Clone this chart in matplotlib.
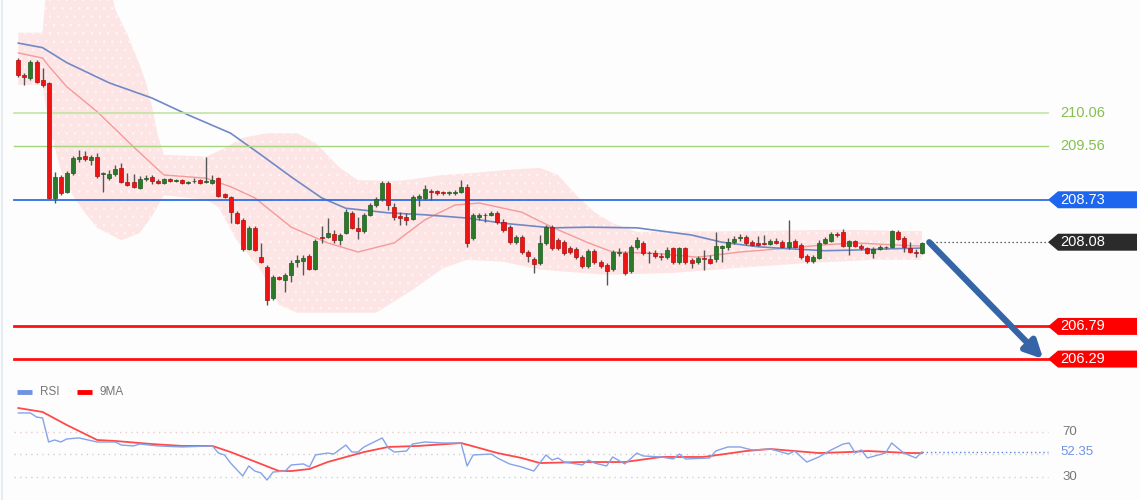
import matplotlib
matplotlib.use("Agg")
import matplotlib.pyplot as plt
import matplotlib.transforms as mtransforms
from matplotlib.patches import Polygon, Rectangle
from matplotlib.lines import Line2D
import numpy as np

plt.rcParams['font.family'] = ['Liberation Sans', 'DejaVu Sans']
plt.rcParams['hatch.linewidth'] = 0.5

# ---- candles (oldest -> newest) ----
opens = [
    210.87, 210.64, 210.60, 210.84, 210.57, 210.52, 208.76, 209.08, 208.85, 209.14,
    209.36, 209.40, 209.34, 209.39, 209.13, 209.06, 209.13, 209.22, 209.00, 209.00,
    208.91, 209.05, 209.08, 209.02, 208.99, 209.05, 209.02, 209.03, 208.99, 209.01,
    209.03, 209.00, 208.99, 209.06, 208.82, 208.77, 208.53, 208.42, 207.98, 208.30,
    207.85, 207.70, 207.23, 207.55, 207.50, 207.58, 207.77, 207.79, 207.87, 207.67,
    208.16, 208.16, 208.21, 208.11, 208.22, 208.53, 208.30, 208.25, 208.50, 208.65,
    208.74, 208.98, 208.62, 208.48, 208.47, 208.44, 208.76, 208.76, 208.87, 208.86,
    208.84, 208.83, 208.83, 208.85, 208.93, 208.14, 208.47, 208.49, 208.50, 208.53,
    208.39, 208.31, 208.08, 208.16, 207.93, 207.82, 207.76, 208.07, 208.31, 208.11,
    208.08, 207.99, 207.98, 207.85, 207.72, 207.95, 207.78, 207.73, 207.67, 207.91,
    207.92, 207.64, 208.01, 208.07, 207.91, 207.92, 207.87, 207.85, 207.99, 207.78,
    207.99, 207.81, 207.78, 207.83, 207.82, 207.82, 207.99, 208.01, 208.08, 208.14,
    208.16, 208.08, 208.07, 208.06, 208.06, 208.10, 208.08, 208.01, 208.10, 208.04,
    207.87, 207.79, 207.84, 208.07, 208.10, 208.21, 208.24, 208.02, 208.10, 208.02,
    207.99, 207.91, 207.98, 208.00, 208.01, 208.24, 208.14, 207.99, 207.93, 207.92]
closes = [
    210.64, 210.61, 210.84, 210.54, 210.49, 208.76, 209.08, 208.83, 209.14, 209.37,
    209.39, 209.36, 209.39, 209.10, 209.14, 209.13, 209.20, 209.00, 208.96, 208.93,
    209.05, 209.07, 209.02, 208.99, 209.05, 209.02, 209.03, 208.99, 209.00, 209.02,
    208.99, 209.01, 209.03, 208.79, 208.77, 208.54, 208.37, 207.98, 208.30, 207.96,
    207.78, 207.20, 207.55, 207.52, 207.58, 207.76, 207.80, 207.84, 207.67, 208.10,
    208.15, 208.22, 208.11, 208.19, 208.54, 208.30, 208.25, 208.50, 208.65, 208.74,
    208.98, 208.65, 208.47, 208.45, 208.42, 208.77, 208.79, 208.90, 208.85, 208.83,
    208.83, 208.84, 208.85, 208.93, 208.07, 208.50, 208.50, 208.50, 208.53, 208.39,
    208.27, 208.08, 208.16, 207.93, 207.87, 207.75, 208.07, 208.31, 207.99, 207.99,
    207.91, 207.93, 207.85, 207.72, 207.95, 207.78, 207.72, 207.64, 207.93, 207.93,
    207.61, 208.01, 208.11, 207.91, 207.92, 207.87, 207.86, 207.96, 207.78, 207.99,
    207.78, 207.76, 207.84, 207.82, 207.76, 208.02, 208.02, 208.08, 208.13, 208.16,
    208.07, 208.04, 208.04, 208.05, 208.10, 208.07, 208.01, 208.08, 208.01, 207.85,
    207.79, 207.85, 208.07, 208.13, 208.21, 208.19, 208.02, 208.10, 208.02, 207.99,
    207.91, 207.98, 208.01, 208.01, 208.25, 208.13, 208.01, 207.93, 207.92, 208.07]
highs = [
    210.90, 210.67, 210.87, 210.87, 210.75, 210.54, 209.15, 209.11, 209.17, 209.40,
    209.49, 209.48, 209.42, 209.45, 209.16, 209.19, 209.26, 209.29, 209.14, 209.13,
    209.09, 209.11, 209.11, 209.05, 209.07, 209.07, 209.05, 209.05, 209.02, 209.06,
    209.05, 209.39, 209.11, 209.08, 208.84, 208.79, 208.56, 208.45, 208.33, 208.33,
    208.07, 207.73, 207.58, 207.57, 207.61, 207.81, 207.88, 207.88, 207.90, 208.13,
    208.33, 208.45, 208.27, 208.22, 208.59, 208.56, 208.47, 208.53, 208.68, 208.77,
    209.01, 209.01, 208.68, 208.54, 208.53, 208.80, 208.82, 208.96, 208.90, 208.88,
    208.87, 208.86, 208.88, 209.03, 208.97, 208.53, 208.53, 208.53, 208.56, 208.56,
    208.44, 208.34, 208.19, 208.19, 207.96, 207.85, 208.19, 208.34, 208.34, 208.14,
    208.11, 208.02, 208.01, 207.88, 207.98, 207.98, 207.81, 207.76, 207.96, 207.99,
    207.95, 208.04, 208.16, 208.10, 207.94, 207.96, 207.91, 208.01, 208.01, 208.01,
    208.01, 207.84, 207.87, 207.96, 207.88, 208.24, 208.04, 208.14, 208.18, 208.21,
    208.19, 208.11, 208.18, 208.19, 208.13, 208.14, 208.11, 208.42, 208.13, 208.07,
    207.90, 207.88, 208.11, 208.16, 208.24, 208.24, 208.28, 208.11, 208.11, 208.05,
    208.01, 208.01, 208.04, 208.02, 208.27, 208.27, 208.18, 208.08, 207.98, 208.08]
lows = [
    210.61, 210.49, 210.57, 210.52, 210.46, 208.74, 208.68, 208.80, 208.83, 209.11,
    209.31, 209.33, 209.26, 209.06, 208.85, 209.03, 209.10, 208.99, 208.94, 208.91,
    208.89, 209.02, 208.97, 208.97, 208.97, 209.00, 209.00, 208.97, 208.97, 208.99,
    208.97, 208.98, 208.97, 208.77, 208.75, 208.37, 208.36, 207.95, 207.96, 207.94,
    207.76, 207.12, 207.20, 207.50, 207.32, 207.47, 207.70, 207.58, 207.65, 207.65,
    208.07, 208.14, 208.07, 208.04, 208.21, 208.28, 208.13, 208.22, 208.48, 208.62,
    208.71, 208.57, 208.42, 208.34, 208.34, 208.42, 208.63, 208.73, 208.73, 208.81,
    208.80, 208.80, 208.81, 208.83, 208.01, 208.11, 208.42, 208.39, 208.48, 208.36,
    208.24, 208.05, 208.05, 207.90, 207.78, 207.61, 207.73, 208.04, 207.96, 207.96,
    207.88, 207.90, 207.82, 207.69, 207.69, 207.75, 207.69, 207.42, 207.64, 207.87,
    207.58, 207.61, 207.98, 207.88, 207.76, 207.84, 207.81, 207.82, 207.75, 207.75,
    207.75, 207.68, 207.75, 207.66, 207.75, 207.78, 207.78, 207.96, 208.05, 208.10,
    208.04, 208.02, 208.02, 208.04, 208.04, 208.05, 207.99, 207.98, 207.99, 207.82,
    207.76, 207.76, 207.82, 208.05, 208.08, 208.16, 208.00, 207.88, 208.01, 207.96,
    207.90, 207.84, 207.96, 207.98, 207.99, 208.11, 207.93, 207.91, 207.85, 207.90]

# ---- overlays (candle index -> price) ----
band_up_idx = [0, 4, 5, 14, 16, 18, 20, 21, 22, 23, 24, 31, 34, 37, 41, 46, 49, 53,
               56, 63, 70, 75, 81, 86, 89, 92, 95, 98, 102, 120, 135, 149]
band_up = [211.29, 211.29, 212.40, 212.40, 211.64, 211.26, 210.80, 210.54, 210.18,
           209.72, 209.42, 209.39, 209.52, 209.68, 209.75, 209.75, 209.60, 209.22,
           209.03, 209.02, 209.11, 209.14, 209.19, 209.22, 209.11, 208.80, 208.54,
           208.37, 208.24, 208.25, 208.27, 208.25]
band_lo_idx = [0, 4, 5, 7, 8, 11, 13, 17, 20, 22, 24, 31, 33, 36, 40, 43, 46, 59,
               65, 70, 74, 80, 86, 97, 108, 119, 130, 141, 149]
band_lo = [210.49, 210.49, 209.88, 209.19, 208.93, 208.53, 208.30, 208.11, 208.22,
           208.47, 208.80, 208.73, 208.62, 208.11, 207.65, 207.12, 207.00, 207.00,
           207.35, 207.68, 207.81, 207.78, 207.66, 207.58, 207.61, 207.69, 207.76,
           207.81, 207.81]
ma_fast_idx = [0, 4, 5, 8, 13, 19, 24, 31, 35, 39, 45, 51, 56, 62, 67, 72, 76, 83,
               88, 94, 98, 105, 112, 119, 127, 133, 138, 144, 149]
ma_fast = [210.98, 210.90, 210.78, 210.46, 210.08, 209.54, 209.11, 209.06, 208.93,
           208.76, 208.31, 208.07, 207.93, 208.07, 208.42, 208.65, 208.68, 208.54,
           208.31, 208.07, 207.93, 207.91, 207.85, 207.93, 207.99, 208.04, 208.07,
           208.04, 208.02]
ma_slow_idx = [0, 4, 8, 15, 22, 28, 35, 40, 45, 50, 54, 61, 67, 74, 80, 88, 94, 102,
               111, 116, 122, 127, 133, 138, 144, 149]
ma_slow = [211.13, 211.06, 210.83, 210.52, 210.29, 210.03, 209.75, 209.42, 209.08,
           208.76, 208.60, 208.53, 208.50, 208.45, 208.37, 208.30, 208.31, 208.30,
           208.19, 208.08, 208.01, 207.98, 207.95, 207.96, 207.98, 207.99]

# ---- levels ----
green_levels = [210.06, 209.56]
pivot_level = 208.73
last_price = 208.08
support_levels = [206.79, 206.29]

# ---- RSI panel ----
rsi_idx = [0, 2, 3, 4, 5, 6, 7, 8, 10, 13, 16, 17, 19, 20, 23, 27, 32, 33, 34, 35,
           37, 38, 39, 40, 41, 42, 44, 45, 47, 48, 49, 51, 52, 54, 55, 56, 57, 60,
           61, 62, 64, 65, 67, 70, 73, 74, 75, 78, 79, 81, 83, 85, 87, 88, 89, 90,
           93, 94, 95, 97, 98, 100, 102, 103, 106, 108, 109, 110, 114, 115, 117,
           119, 121, 124, 127, 128, 130, 132, 134, 136, 137, 138, 139, 140, 143,
           144, 146, 148, 149]
rsi = [86.9, 86.9, 83.3, 82.4, 61.1, 62.9, 61.1, 63.8, 64.7, 61.1, 61.1, 58.4, 57.6,
       59.3, 57.6, 56.7, 57.6, 51.3, 49.6, 42.4, 30.9, 39.8, 35.3, 33.6, 27.3, 34.4,
       35.3, 40.7, 41.6, 38.9, 49.6, 51.3, 50.4, 58.4, 52.2, 52.2, 56.7, 64.7, 55.8,
       52.2, 53.1, 59.3, 61.1, 60.2, 60.2, 39.8, 49.6, 50.4, 46.9, 41.6, 38.9, 35.3,
       49.6, 45.1, 46.9, 43.3, 40.7, 45.1, 42.4, 39.8, 47.8, 41.6, 51.3, 48.7, 47.8,
       46.0, 50.4, 46.0, 46.9, 53.1, 56.7, 56.7, 54.0, 54.9, 50.4, 53.1, 43.3, 47.8,
       54.0, 59.3, 60.2, 51.3, 54.0, 46.9, 51.3, 60.2, 51.3, 46.9, 52.35]
ma9_idx = [0, 4, 8, 13, 16, 22, 27, 32, 35, 40, 43, 45, 48, 51, 57, 61, 66, 73, 76,
           79, 83, 86, 93, 100, 106, 113, 120, 124, 128, 132, 137, 140, 147, 149]
ma9 = [91.3, 87.8, 76.2, 62.9, 62.0, 59.3, 57.6, 57.6, 52.2, 41.6, 35.3, 35.3, 37.1,
       43.3, 52.2, 56.7, 57.6, 60.2, 55.8, 51.3, 46.9, 42.4, 43.3, 43.3, 47.8, 47.8,
       53.1, 54.9, 53.1, 51.3, 52.2, 53.1, 51.3, 51.3]
rsi_levels = [70, 50, 30]

W, H = 1140, 500
fig = plt.figure(figsize=(W / 100, H / 100), dpi=100, facecolor='#fdfdfd')
ax = fig.add_axes([0, 122 / H, 1, 378 / H])
ax2 = fig.add_axes([0, 0, 1, 120 / H])
xlim = (-3.02, 184.95)
for a in (ax, ax2):
    a.set_facecolor('#fdfdfd')
    a.set_xlim(*xlim)
    a.axis('off')
ax.set_ylim(206.0, 211.79)
ax2.set_ylim(9.56, 116.2)

fig.add_artist(Line2D([0.0015, 0.0015], [0, 1], color='#dfe8f1', lw=1.2))

# Bollinger band
poly_x = np.r_[band_up_idx, band_lo_idx[::-1]]
poly_y = np.r_[band_up, band_lo[::-1]]
ax.fill(poly_x, poly_y, facecolor='#fde5e5', edgecolor='#fff6f6', hatch='..',
        lw=0, zorder=1)
ax.plot(ma_fast_idx, ma_fast, color='#f39a9a', lw=1.0, zorder=2)
ax.plot(ma_slow_idx, ma_slow, color='#7089c6', lw=1.2, zorder=2)

# horizontal levels
x0, x1 = 14 / W, 1048 / W
ax.axhline(green_levels[0], x0, x1, color='#c3e3a4', lw=1.2, zorder=2)
ax.axhline(green_levels[1], x0, x1, color='#a8d47f', lw=1.0, zorder=2)
ax.axhline(pivot_level, x0, x1, color='#2d6ee6', lw=1.3, zorder=2.5)
for lv in support_levels:
    ax.axhline(lv, x0, x1, color='#ff1010', lw=2.0, zorder=2.5)

# candles
n = len(closes)
body_w = 0.66
for i in range(n):
    o, c, h, l = opens[i], closes[i], highs[i], lows[i]
    up = c >= o
    col = '#2a7a2a' if up else '#ee1414'
    edge = '#1d5a1d' if up else '#b00d0d'
    ax.vlines(i, l, h, color='#555555', lw=1.0, zorder=3)
    bot = min(o, c)
    hgt = max(abs(c - o), 0.012)
    ax.add_patch(Rectangle((i - body_w / 2, bot), body_w, hgt, facecolor=col,
                           edgecolor=edge, lw=0.5, zorder=4))

last_i = n - 1
trans = mtransforms.blended_transform_factory(ax.transAxes, ax.transData)
ax.plot([(last_i + 1) , 169.8], [last_price, last_price], color='#333333', lw=0.9,
        ls=(0, (1, 2.2)), zorder=2)

# price tags
def tag(y, text, color):
    hh = 0.13
    pts = [(1048 / W, y), (1058 / W, y + hh), (1137 / W, y + hh),
           (1137 / W, y - hh), (1058 / W, y - hh)]
    ax.add_patch(Polygon(pts, closed=True, transform=trans, facecolor=color,
                         edgecolor='none', zorder=5, clip_on=False))
    ax.text(1060 / W, y, text, transform=trans, color='white', fontsize=10.5,
            va='center', ha='left', zorder=6)

for lv in green_levels:
    ax.text(1060 / W, lv, f'{lv:.2f}', transform=trans, color='#86bf4e',
            fontsize=10.5, va='center', ha='left')
tag(pivot_level, f'{pivot_level:.2f}', '#1f66ee')
tag(last_price, f'{last_price:.2f}', '#2b2b2b')
for lv in support_levels:
    tag(lv, f'{lv:.2f}', '#ff0000')

# forecast arrow
ax.annotate('', xy=(last_i + 20, support_levels[1]), xytext=(last_i + 1.2, last_price),
            arrowprops=dict(arrowstyle='-|>', color='#3565a6', lw=4.5,
                            mutation_scale=26, shrinkA=0, shrinkB=0), zorder=6)

# ---- RSI panel ----
lvl_cols = ['#e9c9c9', '#cfcfcf', '#cdd0dc']
for lv, lc in zip(rsi_levels, lvl_cols):
    ax2.axhline(lv, 14 / W, 1048 / W, color=lc, lw=1.0, ls=(0, (1, 3)))
ax2.plot(rsi_idx, rsi, color='#85a3e8', lw=1.0, zorder=3)
ax2.plot(ma9_idx, ma9, color='#ff2a2a', lw=1.3, alpha=0.85, zorder=2)
ax2.plot([rsi_idx[-1], 169.8], [rsi[-1], rsi[-1]], color='#5f84de', lw=1.0,
         ls=(0, (1, 2)))
trans2 = mtransforms.blended_transform_factory(ax2.transAxes, ax2.transData)
ax2.text(1062 / W, 70, '70', transform=trans2, color='#777777', fontsize=9.5,
         va='center')
ax2.text(1060 / W, rsi[-1], f'{rsi[-1]:.2f}', transform=trans2, color='#6f92e2',
         fontsize=9.5, va='center')
ax2.text(1062 / W, 30, '30', transform=trans2, color='#777777', fontsize=9.5,
         va='center')

# legend
ly = 1 - 12 / 120
ax2.plot([17 / W, 32 / W], [ly, ly], transform=ax2.transAxes, color='#6f92e2', lw=3.5,
         solid_capstyle='butt')
ax2.text(40 / W, ly, 'RSI', transform=ax2.transAxes, color='#777777', fontsize=8.5,
         va='center')
ax2.plot([77 / W, 92 / W], [ly, ly], transform=ax2.transAxes, color='#ff0000', lw=3.5,
         solid_capstyle='butt')
ax2.text(100 / W, ly, '9MA', transform=ax2.transAxes, color='#777777', fontsize=8.5,
         va='center')

fig.savefig('out.png', dpi=100, facecolor=fig.get_facecolor())
